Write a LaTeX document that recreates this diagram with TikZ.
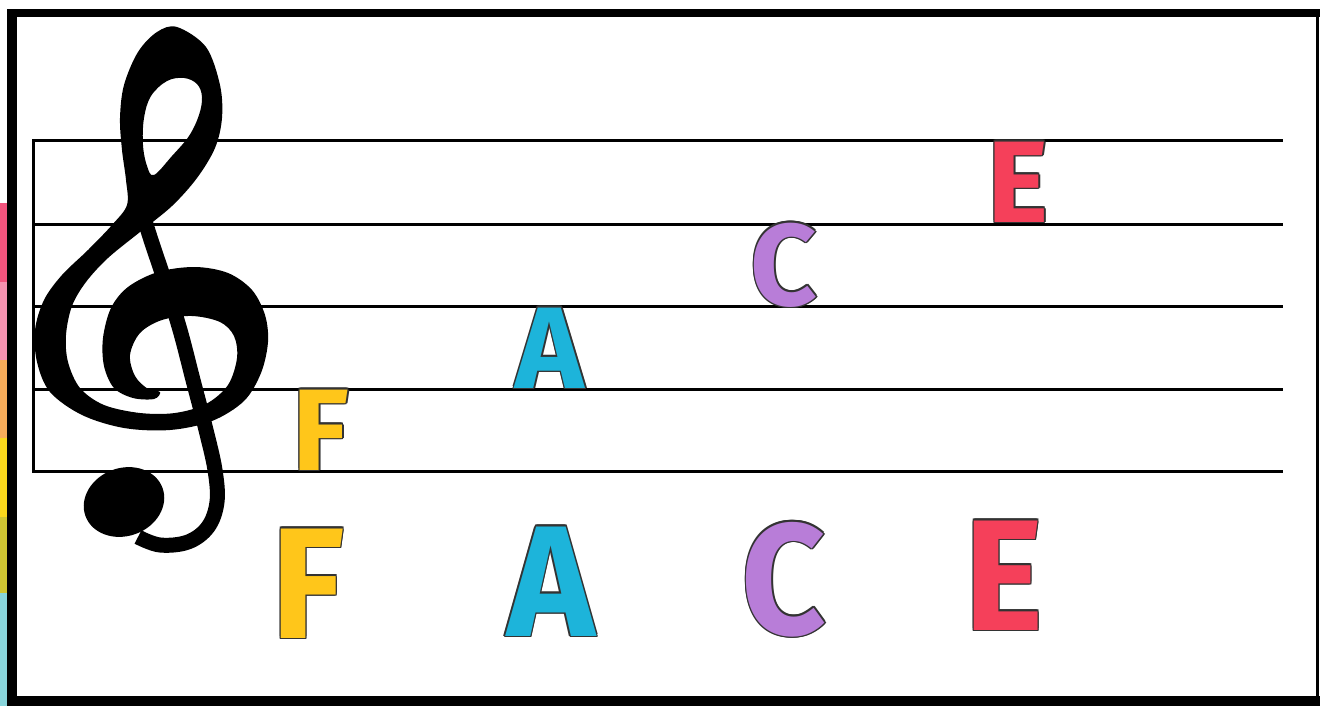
\documentclass[tikz,border=0pt]{standalone}
\usepackage{fontspec}
\newfontfamily\letf{Fira Sans}
\definecolor{cF}{HTML}{FFC61A}
\definecolor{cA}{HTML}{1DB4DA}
\definecolor{cC}{HTML}{B87DD8}
\definecolor{cE}{HTML}{F5405A}
\definecolor{olc}{HTML}{333333}
\definecolor{s1}{HTML}{F2547D}
\definecolor{s2}{HTML}{F592B0}
\definecolor{s3}{HTML}{F7AC5A}
\definecolor{s4}{HTML}{F9D71C}
\definecolor{s5}{HTML}{CFC532}
\definecolor{s6}{HTML}{88D4DA}
\newcommand\oc[3]{\rlap{\hspace*{#1}\raisebox{#2}{\textcolor{olc}{#3}}}}
\newcommand\outl[2]{\oc{1.5pt}{0pt}{#2}\oc{-1.5pt}{0pt}{#2}\oc{0pt}{1.5pt}{#2}\oc{0pt}{-1.5pt}{#2}\oc{1.06pt}{1.06pt}{#2}\oc{-1.06pt}{1.06pt}{#2}\oc{1.06pt}{-1.06pt}{#2}\oc{-1.06pt}{-1.06pt}{#2}\textcolor{#1}{#2}}
\tikzset{
  lettersty/.style={anchor=base, inner sep=0pt, font=\letf\bfseries\fontsize{#1pt}{#1pt}\selectfont},
  staffline/.style={line width=3pt, black},
}
\begin{document}
\begin{tikzpicture}[x=1pt, y=-1pt]
\useasboundingbox (0,0) rectangle (1320,706);
\fill[white] (0,0) rectangle (1320,706);
% colour strips
\fill[s1] (0,203) rectangle (7,282);
\fill[s2] (0,282) rectangle (7,360);
\fill[s3] (0,360) rectangle (7,438);
\fill[s4] (0,438) rectangle (7,517);
\fill[s5] (0,517) rectangle (7,593);
\fill[s6] (0,593) rectangle (7,706);
% frame
\fill[black] (7,9) rectangle (1320,17);
\fill[black] (7,9) rectangle (17,706);
\fill[black] (7,696) rectangle (1320,706);
\fill[black] (1316,9) rectangle (1318.5,706);
% staff
\foreach \yy in {141,224,306,389,471}
  \draw[staffline] (33,\yy) -- (1283,\yy);
\draw[staffline] (33,139.5) -- (33,472.5);
% treble clef
\fill[black, even odd rule]
  plot[smooth cycle, tension=0.55] coordinates {
   (177,27) (206,47) (220,85) (222,118) (215,148) (197,178) (172,206) (140,232)
   (108,258) (86,282) (72,306) (66,335) (68,362) (80,388) (104,405) (140,413)
   (175,413) (206,404) (228,385) (237,358) (234,336) (220,322) (192,316) (162,320)
   (140,333) (130,355) (135,376) (148,389) (160,392) (154,399) (133,398) (114,388)
   (104,366) (103,338) (111,308) (128,287) (158,272) (195,267) (228,273) (252,290)
   (265,315) (268,342) (261,373) (244,401) (212,421) (170,430) (124,428) (82,415)
   (50,392) (37,362) (35,330) (44,300) (62,275) (88,250) (112,225) (127,205)
   (126,180) (122,150) (120,118) (124,85) (138,52) (157,32)}
  plot[smooth cycle, tension=0.6] coordinates {
   (184,78) (197,84) (202,97) (199,115) (189,136) (172,156) (154,175) (147,166)
   (143,145) (144,118) (151,96) (167,81)};
\draw[black, line width=15pt]
  plot[smooth, tension=0.6] coordinates {
   (136,192) (150,237) (165,282) (180,330) (193,380) (206,430) (215,470)
   (217,502) (208,527) (188,542) (160,545) (138,537)};
\fill[black, rotate around={20:(124,502)}] (124,502) ellipse [x radius=41pt, y radius=34pt];
% letters on the staff
\node[lettersty=116] (fs) at (321,470) {\outl{cF}{F}};
\node[lettersty=116] (as) at (550,388) {\outl{cA}{A}};
\node[lettersty=116] (cs) at (784,305) {\outl{cC}{C}};
\node[lettersty=116] (es) at (1018,222) {\outl{cE}{E}};
% letters below
\node[lettersty=158] (fb) at (308,638) {\scalebox{0.95}[1]{\outl{cF}{F}}};
\node[lettersty=158] (ab) at (551,636) {\scalebox{0.94}[1]{\outl{cA}{A}}};
\node[lettersty=158] (cb) at (784,634) {\scalebox{0.93}[1]{\outl{cC}{C}}};
\node[lettersty=158] (eb) at (1004,630) {\scalebox{0.95}[1]{\outl{cE}{E}}};
\end{tikzpicture}
\end{document}
